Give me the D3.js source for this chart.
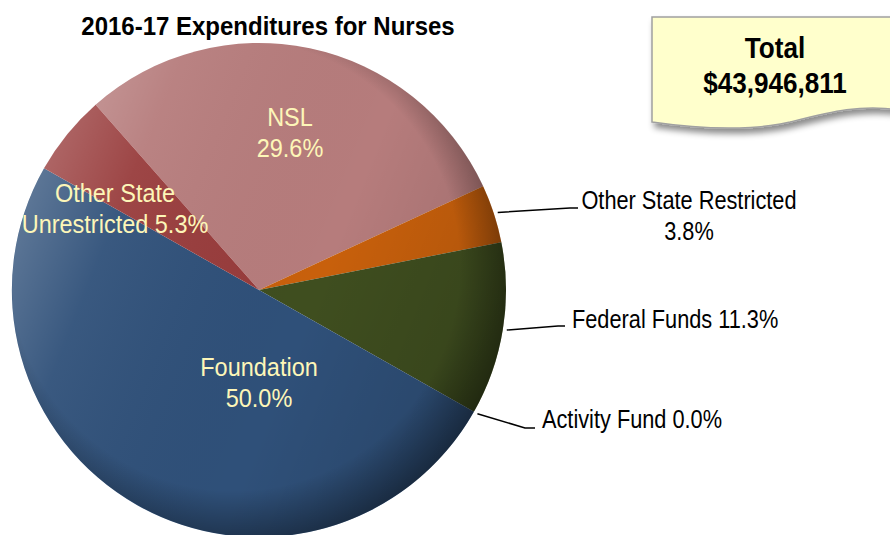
<!DOCTYPE html>
<html>
<head>
<meta charset="utf-8">
<script src="https://cdn.jsdelivr.net/npm/d3@7"></script>
<style>
  body { margin: 0; background: #fff; }
  svg { display: block; }
  text { font-family: "Liberation Sans", Arial, sans-serif; }
</style>
</head>
<body>
<svg id="chart" width="890" height="535"></svg>
<script>
// data
var categories = ["NSL", "Other State Restricted", "Federal Funds", "Activity Fund", "Foundation", "Other State Unrestricted"];
var percents = [29.6, 3.8, 11.3, 0.0, 50.0, 5.3];
var sliceColors = ["#b67c7c", "#c8600c", "#3f4e1f", "#2f4f77", "#2f5079", "#983c3c"];
var totalText = ["Total", "$43,946,811"];
var title = "2016-17 Expenditures for Nurses";

var svg = d3.select("#chart");
var cx = 259, cy = 290, r = 247;
var start = -41.4 * Math.PI / 180;

var defs = svg.append("defs");

// rim shading, darker towards lower right
var rim = defs.append("radialGradient").attr("id", "rim")
  .attr("cx", "45%").attr("cy", "45%").attr("r", "57%");
rim.append("stop").attr("offset", "0").attr("stop-color", "#000").attr("stop-opacity", 0);
rim.append("stop").attr("offset", "0.8").attr("stop-color", "#000").attr("stop-opacity", 0);
rim.append("stop").attr("offset", "1").attr("stop-color", "#000").attr("stop-opacity", 0.4);

var light = defs.append("linearGradient").attr("id", "light")
  .attr("x1", "0").attr("y1", "0.3").attr("x2", "1").attr("y2", "0.7");
light.append("stop").attr("offset", "0").attr("stop-color", "#fff").attr("stop-opacity", 0.25);
light.append("stop").attr("offset", "0.2").attr("stop-color", "#fff").attr("stop-opacity", 0.05);
light.append("stop").attr("offset", "0.6").attr("stop-color", "#000").attr("stop-opacity", 0);
light.append("stop").attr("offset", "1").attr("stop-color", "#000").attr("stop-opacity", 0.15);

var shadow = defs.append("filter").attr("id", "shadow")
  .attr("x", "-10%").attr("y", "-10%").attr("width", "130%").attr("height", "140%");
shadow.append("feDropShadow").attr("dx", 3).attr("dy", 5).attr("stdDeviation", 3)
  .attr("flood-color", "#000").attr("flood-opacity", 0.45);

// no narrow font installed, so squeeze Liberation Sans horizontally
function addText(parent, x, y, lines, size, opts) {
  var t = parent.append("text")
    .attr("transform", "translate(" + x + "," + y + ") scale(" + (opts.sx || 0.87) + ",1)")
    .attr("text-anchor", opts.anchor || "middle")
    .attr("font-size", size)
    .attr("font-weight", opts.weight || "normal")
    .attr("fill", opts.fill || "#000");
  lines.forEach(function(s, k){
    t.append("tspan").attr("x", 0).attr("y", k * opts.step).attr("dy", "0.35em").text(s);
  });
  return t;
}

// title
addText(svg, 268, 26, [title], 25, { weight: "bold", step: 0, sx: 0.96 });

// pie
var pie = d3.pie().sort(null).value(function(d){ return d; })
  .startAngle(start).endAngle(start + 2 * Math.PI);
var arcs = pie(percents);
var arc = d3.arc().innerRadius(0).outerRadius(r);

var g = svg.append("g").attr("transform", "translate(" + cx + "," + cy + ")");

g.selectAll("path.slice")
  .data(arcs)
  .enter().append("path")
  .attr("class", "slice")
  .attr("d", arc)
  .attr("fill", function(d, i){ return sliceColors[i]; });

g.append("circle").attr("r", r).attr("fill", "url(#light)");
g.append("circle").attr("r", r).attr("fill", "url(#rim)");

// inside labels
var insideLabels = [
  { i: 0, lines: ["NSL", "29.6%"], x: 31, y: -173 },
  { i: 5, lines: ["Other State", "Unrestricted 5.3%"], x: -144, y: -97 },
  { i: 4, lines: ["Foundation", "50.0%"], x: 0, y: 77 }
];
insideLabels.forEach(function(l){
  addText(g, l.x, l.y, l.lines, 25, { fill: "#fdf6b8", step: 31, sx: 0.94 });
});

// outside labels with leader lines
var outsideLabels = [
  { i: 1, elbow: [570, 208], end: [578, 208], lines: ["Other State Restricted", "3.8%"], x: 689, y: 200, anchor: "middle" },
  { i: 2, elbow: [558, 326], end: [565, 326], lines: ["Federal Funds 11.3%"], x: 572, y: 319, anchor: "start" },
  { i: 3, elbow: [525, 428], end: [535, 428], lines: ["Activity Fund 0.0%"], x: 542, y: 419, anchor: "start" }
];
outsideLabels.forEach(function(l){
  var a = arcs[l.i];
  var mid = (a.startAngle + a.endAngle) / 2;
  var p = [cx + (r + 4) * Math.sin(mid), cy - (r + 4) * Math.cos(mid)];
  svg.append("polyline")
    .attr("points", [p, l.elbow, l.end].map(function(q){ return q.join(","); }).join(" "))
    .attr("fill", "none").attr("stroke", "#000").attr("stroke-width", 1.5);
  addText(svg, l.x, l.y, l.lines, 25, { anchor: l.anchor, step: 31 });
});

// total callout
var box = svg.append("g");
box.append("path")
  .attr("d", "M652,17 H900 V110 C860,104 830,112 790,122 C750,131 700,129 652,122 Z")
  .attr("fill", "#ffffcc").attr("stroke", "#a0a0a0").attr("stroke-width", 1.5)
  .attr("filter", "url(#shadow)");
addText(box, 775, 47, totalText, 30, { weight: "bold", step: 36 });
</script>
</body>
</html>
